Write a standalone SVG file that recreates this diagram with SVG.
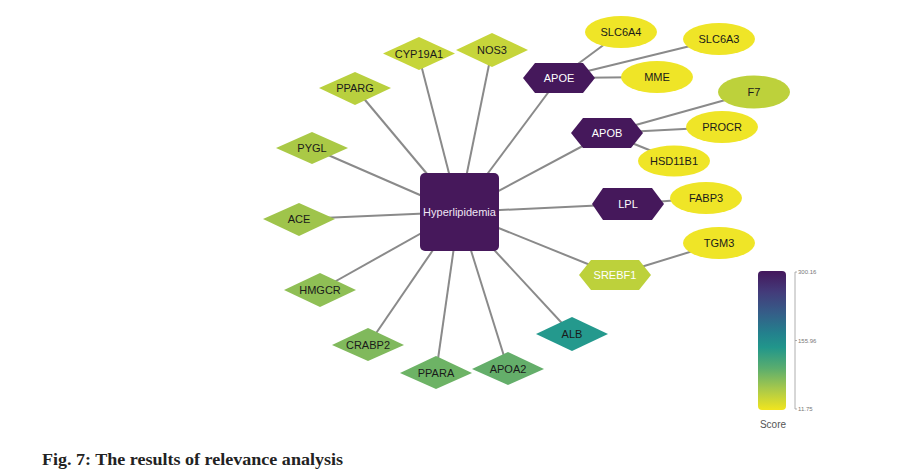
<svg xmlns="http://www.w3.org/2000/svg" width="909" height="469" viewBox="0 0 909 469">
<defs>
<style>
.e{stroke:#8a8a8a;stroke-width:2;fill:none}
.t{font-family:"Liberation Sans",Arial,sans-serif;font-size:11px;fill:#1a1a1a;text-anchor:middle;dominant-baseline:central}
.w{fill:#ffffff}
.pur{fill:#45185b}
.yel{fill:#efe527}
.tick{font-family:"Liberation Sans",Arial,sans-serif;font-size:6px;fill:#777}
</style>
<linearGradient id="vir" x1="0" y1="0" x2="0" y2="1">
<stop offset="0" stop-color="#44175c"/>
<stop offset="0.15" stop-color="#433b7a"/>
<stop offset="0.3" stop-color="#355d88"/>
<stop offset="0.45" stop-color="#23818d"/>
<stop offset="0.55" stop-color="#21968b"/>
<stop offset="0.7" stop-color="#5aad6e"/>
<stop offset="0.85" stop-color="#a9c94a"/>
<stop offset="1" stop-color="#f1e51e"/>
</linearGradient>
</defs>
<rect width="909" height="469" fill="#ffffff"/>
<g id="connectors">
<line class="e" x1="459" y1="212" x2="418" y2="53"/>
<line class="e" x1="459" y1="212" x2="492" y2="50"/>
<line class="e" x1="459" y1="212" x2="355" y2="88"/>
<line class="e" x1="459" y1="212" x2="312" y2="148"/>
<line class="e" x1="459" y1="212" x2="299" y2="219"/>
<line class="e" x1="459" y1="212" x2="320" y2="290"/>
<line class="e" x1="459" y1="212" x2="368" y2="345"/>
<line class="e" x1="459" y1="212" x2="436" y2="373"/>
<line class="e" x1="459" y1="212" x2="508" y2="369"/>
<line class="e" x1="459" y1="212" x2="572" y2="334"/>
<line class="e" x1="459" y1="212" x2="559" y2="78"/>
<line class="e" x1="459" y1="212" x2="607" y2="133"/>
<line class="e" x1="459" y1="212" x2="628" y2="204"/>
<line class="e" x1="459" y1="212" x2="615" y2="275"/>
<line class="e" x1="559" y1="78" x2="621" y2="32"/>
<line class="e" x1="559" y1="78" x2="719" y2="39"/>
<line class="e" x1="559" y1="78" x2="657" y2="77"/>
<line class="e" x1="607" y1="133" x2="754" y2="92"/>
<line class="e" x1="607" y1="133" x2="722" y2="127"/>
<line class="e" x1="607" y1="133" x2="674" y2="160"/>
<line class="e" x1="628" y1="204" x2="706" y2="198"/>
<line class="e" x1="615" y1="275" x2="719" y2="243"/>
</g>
<g id="Hyperlipidemia">
<rect x="420" y="173" width="79" height="78" rx="5" fill="#46185b"/>
<text class="t w" x="459.5" y="212" style="font-size:11px;fill:#f0e6f5">Hyperlipidemia</text>
</g>
<g id="CYP19A1"><polygon points="383,53.5 419,37 455,53.5 419,70" fill="#c6d53a"/><text class="t" x="419" y="53.5">CYP19A1</text></g>
<g id="NOS3"><polygon points="456,50 492,33 528,50 492,67" fill="#c6d53a"/><text class="t" x="492" y="50">NOS3</text></g>
<g id="PPARG"><polygon points="319,88 355,72 391,88 355,105" fill="#b9d03e"/><text class="t" x="355" y="88">PPARG</text></g>
<g id="PYGL"><polygon points="276,148 312,132 348,148 312,164" fill="#aac946"/><text class="t" x="312" y="148">PYGL</text></g>
<g id="ACE"><polygon points="263,219 299,203 335,219 299,236" fill="#9fc44b"/><text class="t" x="299" y="219">ACE</text></g>
<g id="HMGCR"><polygon points="284,290 320,273 356,290 320,307" fill="#8fbf55"/><text class="t" x="320" y="290">HMGCR</text></g>
<g id="CRABP2"><polygon points="332,345 368,328 404,345 368,361" fill="#80b95c"/><text class="t" x="368" y="345">CRABP2</text></g>
<g id="PPARA"><polygon points="400,373 436,356 472,373 436,389" fill="#6db365"/><text class="t" x="436" y="373">PPARA</text></g>
<g id="APOA2"><polygon points="472,369 508,352 544,369 508,385" fill="#64ae6a"/><text class="t" x="508" y="369">APOA2</text></g>
<g id="ALB"><polygon points="536,334 572,317 608,334 572,351" fill="#24998d"/><text class="t" x="572" y="334">ALB</text></g>
<g id="APOE"><polygon class="pur" points="523,78 535,63 583,63 595,78 583,93 535,93"/><text class="t w" x="559" y="78">APOE</text></g>
<g id="APOB"><polygon class="pur" points="571,133 583,118 631,118 643,133 631,148 583,148"/><text class="t w" x="607" y="133">APOB</text></g>
<g id="LPL"><polygon class="pur" points="592,204 603,188 652,188 664,204 652,220 603,220"/><text class="t w" x="628" y="204">LPL</text></g>
<g id="SREBF1"><polygon points="579,275 591,260 639,260 651,275 639,290 591,290" fill="#bdd13b"/><text class="t w" x="615" y="275">SREBF1</text></g>
<g id="SLC6A4"><ellipse class="yel" cx="621" cy="32" rx="36" ry="16"/><text class="t" x="621" y="32">SLC6A4</text></g>
<g id="SLC6A3"><ellipse class="yel" cx="719" cy="39" rx="36" ry="16"/><text class="t" x="719" y="39">SLC6A3</text></g>
<g id="MME"><ellipse class="yel" cx="657" cy="77" rx="36" ry="16"/><text class="t" x="657" y="77">MME</text></g>
<g id="F7"><ellipse cx="754" cy="92" rx="36" ry="16.5" fill="#bdd13b"/><text class="t" x="754" y="92">F7</text></g>
<g id="PROCR"><ellipse class="yel" cx="722" cy="127" rx="36" ry="16"/><text class="t" x="722" y="127">PROCR</text></g>
<g id="HSD11B1"><ellipse class="yel" cx="674" cy="161" rx="36" ry="15.5"/><text class="t" x="674" y="161">HSD11B1</text></g>
<g id="FABP3"><ellipse class="yel" cx="706" cy="198" rx="36" ry="16"/><text class="t" x="706" y="198">FABP3</text></g>
<g id="TGM3"><ellipse class="yel" cx="719" cy="243" rx="36" ry="16"/><text class="t" x="719" y="243">TGM3</text></g>
<g id="legend">
<rect x="758" y="271" width="28" height="139" rx="4" fill="url(#vir)"/>
<path d="M797,272 H795 V409 H797 M795,340.5 H797" stroke="#999" stroke-width="0.8" fill="none"/>
<text class="tick" x="798" y="274">300.16</text>
<text class="tick" x="798" y="342.5">155.96</text>
<text class="tick" x="798" y="411">11.75</text>
<text x="773" y="428" style="font-family:'Liberation Sans',Arial,sans-serif;font-size:10px;fill:#555;text-anchor:middle">Score</text>
</g>
<text x="42" y="465" textLength="301" lengthAdjust="spacingAndGlyphs" style="font-family:'Liberation Serif','Times New Roman',serif;font-size:17px;font-weight:bold;fill:#222">Fig. 7: The results of relevance analysis</text>
</svg>
